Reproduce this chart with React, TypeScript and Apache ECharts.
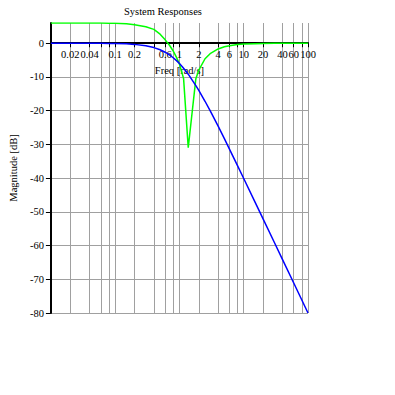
import React, { useEffect, useRef } from "react";
import * as echarts from "echarts";

// Frequencies (rad/s) at which the responses are read
const freq = [0.01, 0.02, 0.04, 0.06, 0.08, 0.1, 0.15, 0.2, 0.3, 0.4, 0.5, 0.6, 0.7, 0.8, 0.9, 1.0, 1.1, 1.16, 1.37, 1.8, 2, 2.5, 3, 4, 5, 6, 8, 10, 15, 20, 30, 40, 60, 100];

// Green response (dB)
const greenDb = [6.0, 6.0, 6.0, 5.98, 5.95, 5.92, 5.8, 5.5, 4.9, 4.1, 2.7, 1.0, -0.6, -2.3, -4.2, -6.2, -8.9, -10.5, -31.0, -10.5, -8.0, -4.6, -3.1, -1.7, -1.05, -0.73, -0.41, -0.26, -0.12, -0.07, -0.03, -0.02, -0.01, 0.0];

// Blue response (dB)
const blueDb = [0.0, 0.0, -0.01, -0.03, -0.06, -0.09, -0.19, -0.34, -0.75, -1.29, -1.94, -2.67, -3.46, -4.3, -5.16, -6.02, -6.89, -7.42, -9.18, -12.55, -13.98, -17.21, -20.0, -24.6, -28.3, -31.4, -36.3, -40.1, -47.1, -52.1, -59.1, -64.1, -71.1, -80.0];

// Grid / tick frequencies on the x axis
const gridFreqs = [0.01, 0.02, 0.04, 0.06, 0.08, 0.1, 0.2, 0.4, 0.6, 0.8, 1, 2, 4, 6, 8, 10, 20, 40, 60, 80, 100];
// Labeled frequencies
const labelFreqs = [0.02, 0.04, 0.1, 0.2, 0.6, 1, 2, 4, 6, 10, 20, 40, 60, 100];
const labelTexts = ["0.02", "0.04", "0.1", "0.2", "0.6", "1", "2", "4", "6", "10", "20", "40", "60", "100"];

// Y ticks (dB)
const yTicks = [-80, -70, -60, -50, -40, -30, -20, -10, 0];
const Y_MIN = -80;
const Y_MAX = 6;

const FONT = "'Liberation Serif', 'Times New Roman', serif";
const FS = 10.5;

export default function App() {
  const ref = useRef<HTMLDivElement>(null);
  useEffect(() => {
    if (!ref.current) return;
    const chart = echarts.init(ref.current, null, { renderer: "svg" });
    const lx = (f: number) => Math.log10(f);
    const labelVals = labelFreqs.map(lx);
    const gridTop = 23;
    const gridBottom = 82;
    const plotH = 395 - gridTop - gridBottom;
    // place x axis at y = 0 dB
    const zeroOffset = -(plotH * (0 - Y_MIN)) / (Y_MAX - Y_MIN);
    chart.setOption({
      animation: false,
      backgroundColor: "#ffffff",
      title: {
        text: "System Responses",
        left: 124,
        top: 6,
        padding: 0,
        textStyle: { fontFamily: FONT, fontSize: FS, fontWeight: "normal", color: "#000" },
      },
      grid: { left: 45, right: 87, top: gridTop, bottom: gridBottom, containLabel: false },
      xAxis: {
        type: "value",
        min: -2,
        max: 2,
        offset: zeroOffset,
        name: "Freq [rad/s]",
        nameLocation: "middle",
        nameGap: 19,
        nameTextStyle: { fontFamily: FONT, fontSize: FS, color: "#000" },
        axisLine: { show: true, onZero: false, lineStyle: { color: "#000", width: 2 } },
        axisTick: { show: true, inside: false, length: 4, customValues: gridFreqs.map(lx), lineStyle: { color: "#000", width: 1 } },
        axisLabel: {
          customValues: labelVals,
          fontFamily: FONT,
          fontSize: FS,
          color: "#000",
          margin: 6,
          hideOverlap: false,
          formatter: (v: number) => {
            let best = 0;
            for (let i = 0; i < labelVals.length; i++) {
              if (Math.abs(labelVals[i] - v) < Math.abs(labelVals[best] - v)) best = i;
            }
            return labelTexts[best];
          },
        },
        splitLine: { show: true, lineStyle: { color: "#a0a0a0", width: 1 } },
      },
      yAxis: {
        type: "value",
        min: Y_MIN,
        max: Y_MAX,
        name: "Magnitude [dB]",
        nameLocation: "middle",
        nameGap: 26,
        nameTextStyle: { fontFamily: FONT, fontSize: FS, color: "#000" },
        axisLine: { show: true, onZero: false, lineStyle: { color: "#000", width: 2 } },
        axisTick: { show: true, inside: false, length: 5, customValues: yTicks, lineStyle: { color: "#000", width: 1 } },
        axisLabel: {
          customValues: yTicks,
          fontFamily: FONT,
          fontSize: FS,
          color: "#000",
          margin: 7,
        },
        splitLine: { show: true, lineStyle: { color: "#a0a0a0", width: 1 } },
      },
      series: [
        {
          type: "line",
          name: "green",
          data: freq.map((f, i) => [lx(f), greenDb[i]]),
          showSymbol: false,
          lineStyle: { color: "#00ff00", width: 1.5 },
          itemStyle: { color: "#00ff00" },
        },
        {
          type: "line",
          name: "blue",
          data: freq.map((f, i) => [lx(f), blueDb[i]]),
          showSymbol: false,
          lineStyle: { color: "#0000ff", width: 1.5 },
          itemStyle: { color: "#0000ff" },
        },
      ],
    });
    return () => chart.dispose();
  }, []);
  return (
    <div
      ref={ref}
      style={{ position: "fixed", left: 0, top: 0, width: 395, height: 395, background: "#fff" }}
    />
  );
}
